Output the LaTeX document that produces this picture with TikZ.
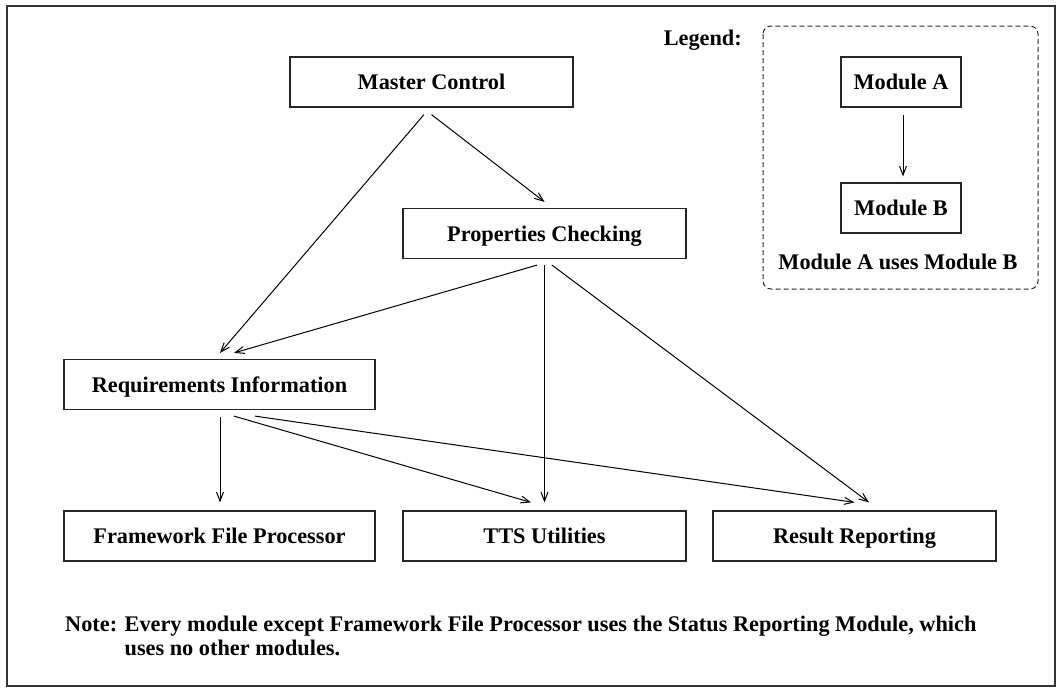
\documentclass[tikz,border=0pt]{standalone}
\usepackage{fontspec}
\setmainfont{Liberation Serif}
\usetikzlibrary{arrows.meta}
\begin{document}
\begin{tikzpicture}[x=1pt,y=-1pt,
  font=\fontsize{22.3}{24}\selectfont\bfseries,
  modbox/.style={draw=black!85, line width=1.2pt, minimum height=50pt, inner sep=0pt,
    text height=20pt, text depth=5pt},
  plain/.style={inner sep=0pt},
  arr/.style={draw=black, line width=1pt, -{Straight Barb[length=9pt,width=7pt]}}]
\useasboundingbox (0,0) rectangle (1062,688);
\draw[black!80, line width=1.3pt] (7,6) rectangle (1055,686);

% legend
\node[plain, anchor=base east] (legend) at (742,45) {Legend:};
\draw[black!85, line width=1pt, dash pattern=on 5pt off 3pt, rounded corners=8pt] (763,26) rectangle (1038,289);
\node[modbox, minimum width=120pt] (ma) at (901,82) {Module A};
\node[modbox, minimum width=120pt] (mb) at (901,208) {Module B};
\draw[arr] ([xshift=2pt,yshift=-7pt]ma.south) -- ([xshift=2pt,yshift=6pt]mb.north);
\node[plain, anchor=base] (legtxt) at (898,269) {Module A uses Module B};

% modules
\node[modbox, minimum width=283pt] (mc) at (431.5,82) {Master Control};
\node[modbox, minimum width=283pt] (pc) at (544.5,233.5) {Properties Checking};
\node[modbox, minimum width=311pt] (ri) at (219.5,384.5) {Requirements Information};
\node[modbox, minimum width=311pt] (ffp) at (219.5,536) {Framework File Processor};
\node[modbox, minimum width=283pt] (tts) at (544.5,536) {TTS Utilities};
\node[modbox, minimum width=283pt] (rr) at (854.5,536) {Result Reporting};

% connectors
\draw[arr] ([yshift=-7pt]mc.south) -- ([yshift=6pt]pc.north);
\draw[arr] ([xshift=-7.5pt,yshift=-7pt]mc.south) -- ([xshift=0.5pt,yshift=6pt]ri.north);
\draw[arr] ([xshift=-7.5pt,yshift=-6pt]pc.south) -- ([xshift=14.5pt,yshift=6pt]ri.north);
\draw[arr] ([yshift=-6pt]pc.south) -- ([yshift=8pt]tts.north);
\draw[arr] ([xshift=7.5pt,yshift=-6pt]pc.south) -- ([xshift=14.5pt,yshift=8pt]rr.north);
\draw[arr] ([xshift=0.5pt,yshift=-7pt]ri.south) -- ([xshift=0.5pt,yshift=8pt]ffp.north);
\draw[arr] ([xshift=14.5pt,yshift=-6pt]ri.south) -- ([xshift=-13.5pt,yshift=8pt]tts.north);
\draw[arr] ([xshift=35.5pt,yshift=-6pt]ri.south) -- ([yshift=8pt]rr.north);

% note
\node[plain, anchor=base west] (note) at (65,631) {Note: Every module except Framework File Processor uses the Status Reporting Module, which};
\node[plain, anchor=base west] (note2) at ([yshift=-24pt]note.base west) {\hphantom{Note: }uses no other modules.};
\end{tikzpicture}
\end{document}
